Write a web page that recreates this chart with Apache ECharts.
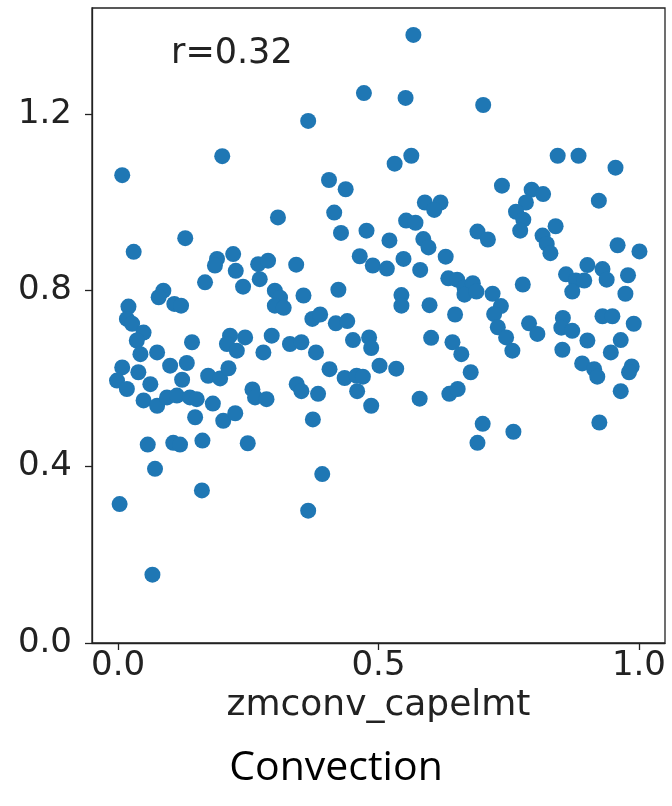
<!DOCTYPE html>
<html>
<head>
<meta charset="utf-8">
<script src="https://cdn.jsdelivr.net/npm/echarts@6/dist/echarts.min.js"></script>
<style>
html,body{margin:0;padding:0;background:#fff;}
#chart{width:672px;height:806px;}
</style>
</head>
<body>
<div id="chart"></div>
<script>
// zmconv_capelmt (normalised parameter value)
const xValues = [
  0.008,0.200,0.307,0.129,0.030,0.190,0.186,0.221,0.226,0.167,
  0.240,0.269,0.288,0.272,0.301,0.087,0.078,0.108,0.121,0.020,
  0.017,0.027,0.049,0.311,0.301,0.318,0.342,0.356,0.373,0.388,
  0.418,0.440,0.423,0.472,0.365,0.405,0.437,0.415,0.428,0.477,
  0.464,0.489,0.516,0.521,0.531,0.563,0.567,0.552,0.701,0.589,
  0.619,0.607,0.553,0.571,0.586,0.596,0.629,0.548,0.580,0.544,
  0.544,0.598,0.647,0.634,0.651,0.665,0.681,0.665,0.688,0.719,
  0.737,0.794,0.816,0.783,0.764,0.778,0.772,0.840,0.923,0.690,
  0.710,0.815,0.823,0.830,0.959,1.001,0.844,0.884,0.955,0.777,
  0.860,0.879,0.895,0.872,0.901,0.930,0.938,0.979,0.974,0.735,
  0.722,0.729,0.745,0.757,0.789,0.805,0.854,0.851,0.872,0.930,
  0.949,0.990,0.901,0.965,0.946,0.853,0.891,0.914,0.920,0.986,
  0.981,0.965,0.677,0.700,0.690,0.759,0.924,0.601,0.642,0.659,
  0.502,0.534,0.579,0.636,0.652,0.486,0.330,0.352,0.380,0.451,
  0.482,0.486,0.406,0.435,0.458,0.470,0.343,0.352,0.384,0.459,
  0.374,0.365,0.392,0.142,0.215,0.244,0.209,0.228,0.295,0.279,
  0.036,0.043,0.075,0.008,-0.002,0.017,0.039,0.062,0.100,0.132,
  0.123,0.173,0.196,0.212,0.049,0.075,0.094,0.113,0.138,0.151,
  0.182,0.148,0.202,0.225,0.258,0.263,0.285,0.057,0.106,0.119,
  0.162,0.249,0.071,0.161,0.003,0.066
];
// response values
const yValues = [
  1.061,1.104,0.965,0.918,0.887,0.871,0.856,0.882,0.844,0.818,
  0.808,0.859,0.867,0.825,0.799,0.799,0.784,0.769,0.765,0.763,
  0.735,0.724,0.704,0.783,0.765,0.760,0.858,0.788,0.735,0.745,
  0.725,0.730,0.801,1.247,1.184,1.050,1.029,0.976,0.930,0.935,
  0.877,0.856,0.849,0.913,1.087,1.105,1.379,1.236,1.220,0.999,
  0.999,0.982,0.958,0.953,0.916,0.897,0.876,0.871,0.846,0.789,
  0.765,0.766,0.745,0.827,0.824,0.806,0.816,0.790,0.797,0.792,
  1.037,1.028,1.018,0.999,0.978,0.960,0.935,0.945,1.003,0.933,
  0.915,0.924,0.905,0.884,0.902,0.888,1.105,1.105,1.078,0.813,
  0.836,0.822,0.822,0.797,0.857,0.848,0.824,0.834,0.792,0.764,
  0.746,0.716,0.693,0.663,0.725,0.701,0.737,0.715,0.708,0.741,
  0.741,0.724,0.686,0.687,0.659,0.665,0.634,0.621,0.604,0.627,
  0.614,0.571,0.614,0.497,0.454,0.479,0.500,0.692,0.682,0.655,
  0.629,0.622,0.554,0.565,0.576,0.538,0.678,0.682,0.659,0.687,
  0.693,0.669,0.621,0.601,0.606,0.604,0.587,0.571,0.565,0.571,
  0.507,0.300,0.383,0.682,0.697,0.693,0.678,0.663,0.697,0.659,
  0.686,0.655,0.659,0.625,0.595,0.576,0.614,0.587,0.629,0.635,
  0.597,0.606,0.600,0.623,0.550,0.538,0.557,0.561,0.557,0.553,
  0.543,0.512,0.504,0.521,0.575,0.557,0.553,0.450,0.454,0.450,
  0.459,0.453,0.395,0.346,0.315,0.155
];
const xTicks = [0.0, 0.5, 1.0];
const yTicks = [0.0, 0.4, 0.8, 1.2];
const xName = 'zmconv_capelmt';
const corrLabel = 'r=0.32';
const panelTitle = 'Convection';

const points = xValues.map((x, i) => [x, yValues[i]]);
const axisColor = '#222';
const tickFont = 'DejaVu Sans';

const chart = echarts.init(document.getElementById('chart'), null, {renderer: 'canvas'});
chart.setOption({
  animation: false,
  backgroundColor: '#fff',
  grid: {
    left: 92, right: 7, top: 8, bottom: 163,
    show: true, borderColor: axisColor, borderWidth: 1.3,
    backgroundColor: 'transparent',
    containLabel: false, outerBoundsMode: 'none'
  },
  xAxis: {
    type: 'value', min: -0.05, max: 1.05,
    name: xName, nameLocation: 'middle', nameGap: 20,
    nameTextStyle: {fontFamily: tickFont, fontSize: 36, color: axisColor},
    axisLine: {show: true, onZero: false, lineStyle: {color: axisColor, width: 1.3}},
    axisTick: {show: true, length: 7, customValues: xTicks, lineStyle: {color: axisColor, width: 1.3}},
    axisLabel: {customValues: xTicks, margin: 6, fontFamily: tickFont, fontSize: 34, color: axisColor,
      formatter: v => Number(v).toFixed(1)},
    splitLine: {show: false}
  },
  yAxis: {
    type: 'value', min: 0, max: 1.44,
    axisLine: {show: true, onZero: false, lineStyle: {color: axisColor, width: 1.3}},
    axisTick: {show: true, length: 7, customValues: yTicks, lineStyle: {color: axisColor, width: 1.3}},
    axisLabel: {customValues: yTicks, margin: 20, fontFamily: tickFont, fontSize: 34, color: axisColor,
      formatter: v => Number(v).toFixed(1)},
    splitLine: {show: false}
  },
  graphic: [
    {type: 'text', left: 171, top: 36,
      style: {text: corrLabel, fontFamily: tickFont, fontSize: 35, fill: axisColor}},
    {type: 'text', left: 'center', top: 748,
      style: {text: panelTitle, fontFamily: 'Open Sans', fontSize: 41, fill: '#000'}}
  ],
  series: [{
    type: 'scatter',
    data: points,
    symbol: 'circle',
    symbolSize: 16,
    itemStyle: {color: '#1f77b4', opacity: 1},
    silent: true
  }]
});
</script>
</body>
</html>
